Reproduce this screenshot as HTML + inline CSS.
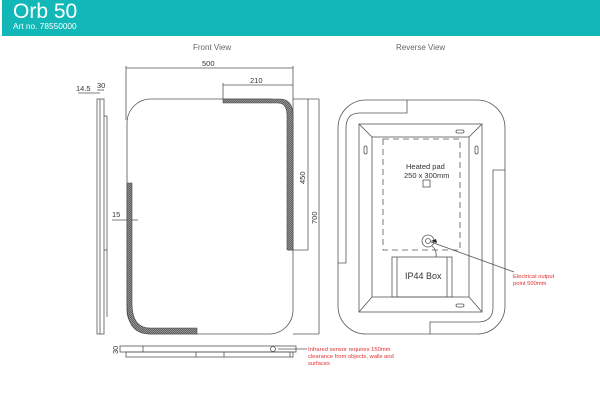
<!DOCTYPE html>
<html><head><style>
body{margin:0;width:600px;height:400px;background:#fff;overflow:hidden;font-family:"Liberation Sans",sans-serif}
</style></head><body>
<svg width="600" height="400" viewBox="0 0 600 400" xmlns="http://www.w3.org/2000/svg" font-family="Liberation Sans, sans-serif">
<defs>
<pattern id="h" width="2" height="2" patternUnits="userSpaceOnUse"><rect width="2" height="2" fill="#999"/><path d="M0 2L2 0" stroke="#444" stroke-width="0.6"/></pattern>
</defs>
<rect x="2" y="0" width="598" height="36" fill="#12b8b8"/>
<text x="13" y="18" font-size="21" fill="#fff">Orb 50</text>
<text x="13" y="29" font-size="8.3" fill="#fff">Art no. 78550000</text>
<g fill="none" stroke="#555" stroke-width="0.8">
<rect x="97" y="99" width="7" height="235"/>
<line x1="100" y1="99" x2="100" y2="334"/>
<line x1="104" y1="116" x2="107" y2="116"/><line x1="104" y1="250" x2="107" y2="250"/>
<line x1="107" y1="116" x2="107" y2="317"/>
<line x1="97" y1="90" x2="104" y2="90"/><line x1="78" y1="93" x2="100" y2="93"/>
<rect x="127" y="99" width="166" height="235" rx="24"/>
<line x1="126" y1="68" x2="293" y2="68"/><line x1="126" y1="66" x2="126" y2="120"/><line x1="293" y1="66" x2="293" y2="120"/>
<line x1="223" y1="85" x2="293" y2="85"/><line x1="223" y1="83" x2="223" y2="99"/>
<line x1="293" y1="99" x2="319" y2="99"/><line x1="308" y1="99" x2="308" y2="250"/><line x1="288" y1="250" x2="308" y2="250"/>
<line x1="319" y1="99" x2="319" y2="334"/><line x1="293" y1="334" x2="319" y2="334"/>
<line x1="112" y1="220" x2="138" y2="220"/>
<rect x="120" y="346" width="176" height="6"/><rect x="126" y="352" width="167" height="5"/>
<line x1="143" y1="346" x2="143" y2="352"/><line x1="196" y1="352" x2="196" y2="357"/><line x1="224" y1="352" x2="224" y2="357"/><line x1="290" y1="352" x2="290" y2="357"/>
<circle cx="273" cy="349" r="2.5"/>
<line x1="278" y1="349" x2="307" y2="349"/>
<rect x="338" y="100" width="167" height="234" rx="28"/>
<path d="M407 100V113H360Q346 113 346 128V263H338"/>
<path d="M505 170H493V307Q493 322 478 322H430V334"/>
<rect x="359" y="124" width="123" height="188"/>
<rect x="372" y="137" width="97" height="160"/>
<path d="M359 124L372 137M482 124L469 137M359 312L372 297M482 312L469 297"/>
<rect x="383" y="139" width="77" height="111" stroke-dasharray="6 4"/>
<rect x="423" y="180" width="7" height="7"/>
<rect x="392" y="257" width="60" height="40"/>
<line x1="397" y1="257" x2="397" y2="297"/><line x1="447" y1="257" x2="447" y2="297"/>
<circle cx="428" cy="241" r="6"/><circle cx="428" cy="241" r="2.5"/>
<path d="M432 246Q437 250 436 257"/>
<rect x="456" y="130" width="8" height="3" rx="1.5"/><rect x="456" y="304" width="8" height="3" rx="1.5"/>
<rect x="364" y="146" width="3" height="8" rx="1.5"/><rect x="475" y="146" width="3" height="8" rx="1.5"/>
<line x1="431" y1="242" x2="514" y2="272"/>
</g>
<path d="M223 99H280Q293 99 293 116V250H287V116Q287 103 278 103H223Z" fill="url(#h)" stroke="#444" stroke-width="0.6"/>
<path d="M127 183H132V303Q132 328 150 328H197V334H150Q127 334 127 305Z" fill="url(#h)" stroke="#444" stroke-width="0.6"/>
<polygon points="437,243 431,241 436,239" fill="#222"/>
<g font-size="7.5" fill="#333">
<text x="193" y="50" font-size="8" fill="#666">Front View</text>
<text x="396" y="50" font-size="8" fill="#666">Reverse View</text>
<text x="202" y="66">500</text>
<text x="250" y="83">210</text>
<text x="97" y="88">30</text>
<text x="76" y="91">14.5</text>
<text x="112" y="217">15</text>
<text x="0" y="0" transform="translate(305 184) rotate(-90)">450</text>
<text x="0" y="0" transform="translate(317 224) rotate(-90)">700</text>
<text x="0" y="0" transform="translate(118 354) rotate(-90)">30</text>
<text x="406" y="169">Heated pad</text>
<text x="404" y="178">250 x 300mm</text>
<text x="405" y="279" font-size="9">IP44 Box</text>
</g>
<g font-size="5.8" fill="#e03030">
<text x="513" y="278">Electrical output</text>
<text x="513" y="285">point 500mm</text>
<text x="308" y="351">Infrared sensor requires 150mm</text>
<text x="308" y="358">clearance from objects, walls and</text>
<text x="308" y="365">surfaces</text>
</g>
</svg>
</body></html>
